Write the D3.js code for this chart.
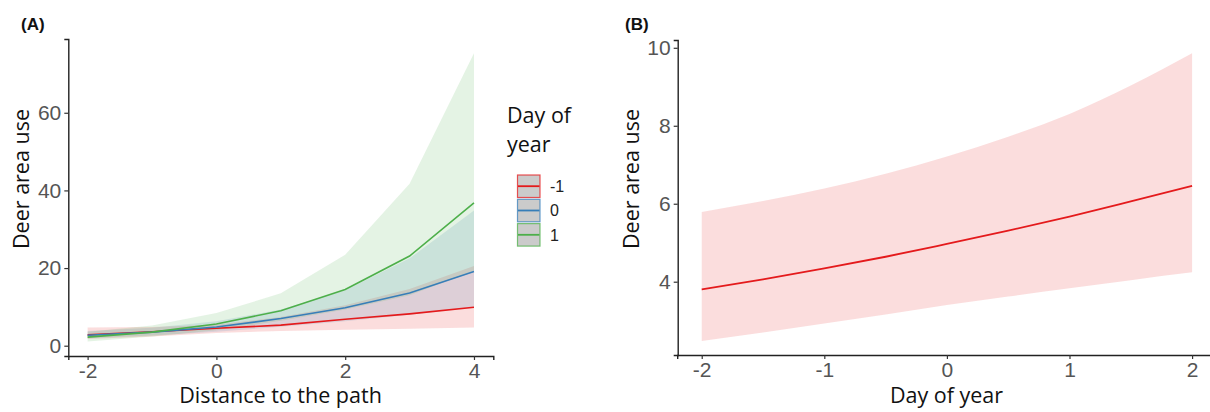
<!DOCTYPE html>
<html><head><meta charset="utf-8">
<script src="https://cdn.jsdelivr.net/npm/d3@7"></script>
<style>
html,body{margin:0;padding:0;background:#fff;}
svg{display:block;}
</style></head>
<body>
<svg id="chart" width="1210" height="412"></svg>
<script>
// ---------- Panel A data ----------
const distA = [-2, -1, 0, 1, 2, 3, 4];
const groupsA = ["-1", "0", "1"];
const fitRed   = [2.8, 3.6, 4.5, 5.3, 6.8, 8.2, 9.9];
const lowRed   = [1.7, 2.4, 3.3, 3.8, 4.1, 4.4, 4.7];
const upRed    = [4.7, 4.8, 5.4, 7.4, 10.4, 14.6, 20.5];
const fitBlue  = [2.7, 3.5, 4.8, 7.0, 9.8, 13.6, 19.1];
const lowBlue  = [1.9, 2.6, 3.6, 4.9, 6.3, 8.0, 10.0];
const upBlue   = [3.8, 4.6, 6.3, 9.3, 14.3, 22.5, 34.8];
const fitGreen = [2.2, 3.5, 5.6, 9.0, 14.5, 23.1, 36.8];
const lowGreen = [1.1, 2.4, 4.0, 6.4, 9.3, 13.0, 19.3];
const upGreen  = [3.6, 5.2, 8.4, 13.5, 23.4, 41.7, 75.3];
const ticksXA = [-2, 0, 2, 4];
const ticksYA = [0, 20, 40, 60];

// ---------- Panel B data ----------
const dayB  = [-2, -1.5, -1, -0.5, 0, 0.5, 1, 1.5, 2];
const fitB  = [3.80, 4.06, 4.34, 4.64, 4.97, 5.31, 5.67, 6.06, 6.46];
const lowB  = [2.48, 2.70, 2.93, 3.16, 3.40, 3.62, 3.83, 4.04, 4.24];
const upB   = [5.79, 6.07, 6.39, 6.77, 7.21, 7.72, 8.30, 9.03, 9.86];
const ticksXB = [-2, -1, 0, 1, 2];
const ticksYB = [4, 6, 8, 10];

const colors = ["#E41A1C", "#377EB8", "#4DAF4A"];
const seriesA = [
  {name: groupsA[0], fit: fitRed, lo: lowRed, hi: upRed, color: colors[0]},
  {name: groupsA[1], fit: fitBlue, lo: lowBlue, hi: upBlue, color: colors[1]},
  {name: groupsA[2], fit: fitGreen, lo: lowGreen, hi: upGreen, color: colors[2]}
];

const svg = d3.select("#chart");
const titleFont = "'Open Sans', 'Noto Sans', sans-serif";
const tickFont = "'Liberation Sans', Arial, sans-serif";
const fmt = d => String(d);

function styleAxis(g) {
  g.select(".domain").attr("stroke", "#222").attr("stroke-width", 1.4);
  g.selectAll(".tick line").attr("stroke", "#333").attr("stroke-width", 1.2);
  g.selectAll(".tick text").attr("fill", "#555").style("font-family", tickFont).style("font-size", "21px");
}

// ---------- Panel A ----------
const xA = d3.scaleLinear().domain([-2.3, 4.3]).range([68.3, 493.3]);
const yA = d3.scaleLinear().domain([-2.65, 79]).range([356, 39]);

const gA = svg.append("g");
seriesA.forEach(s => {
  const area = d3.area()
    .x((d, i) => xA(distA[i]))
    .y0((d, i) => yA(s.lo[i]))
    .y1((d, i) => yA(s.hi[i]));
  gA.append("path").attr("d", area(distA)).attr("fill", s.color).attr("fill-opacity", 0.15);
});
seriesA.forEach(s => {
  const line = d3.line().x((d, i) => xA(distA[i])).y((d, i) => yA(s.fit[i]));
  gA.append("path").attr("d", line(distA)).attr("fill", "none").attr("stroke", s.color).attr("stroke-width", 1.6);
});

const axXA = svg.append("g").attr("transform", "translate(0,356)")
  .call(d3.axisBottom(xA).tickValues(ticksXA).tickSizeOuter(0).tickSize(4).tickPadding(3).tickFormat(fmt));
styleAxis(axXA);
const axYA = svg.append("g").attr("transform", "translate(68.3,0)")
  .call(d3.axisLeft(yA).tickValues(ticksYA).tickSizeOuter(0).tickSize(4).tickPadding(3).tickFormat(fmt));
styleAxis(axYA);

svg.append("text").attr("x", 280.5).attr("y", 403).attr("text-anchor", "middle")
  .style("font-family", titleFont).style("font-size", "21.5px").attr("fill", "#111").text("Distance to the path");
svg.append("text").attr("transform", "translate(29,179) rotate(-90)").attr("text-anchor", "middle")
  .style("font-family", titleFont).style("font-size", "21.5px").attr("fill", "#111").text("Deer area use");
svg.append("text").attr("x", 21).attr("y", 30)
  .style("font-family", tickFont).style("font-size", "17px").style("font-weight", "bold").attr("fill", "#111").text("(A)");

// Legend
const lg = svg.append("g");
lg.append("text").attr("x", 507).attr("y", 123).style("font-family", titleFont).style("font-size", "21.5px").attr("fill", "#111").text("Day of");
lg.append("text").attr("x", 507).attr("y", 152).style("font-family", titleFont).style("font-size", "21.5px").attr("fill", "#111").text("year");
seriesA.forEach((s, i) => {
  const y0 = 174.5 + i * 24.3;
  lg.append("rect").attr("x", 517.5).attr("y", y0 + 0.5).attr("width", 22.5).attr("height", 22.5)
    .attr("fill", "#cbcbcb").attr("stroke", s.color).attr("stroke-opacity", 0.75).attr("stroke-width", 1.2);
  lg.append("line").attr("x1", 518).attr("x2", 539.5).attr("y1", y0 + 11.7).attr("y2", y0 + 11.7)
    .attr("stroke", s.color).attr("stroke-width", 1.8);
  lg.append("text").attr("x", 550).attr("y", y0 + 17.5).style("font-family", tickFont).style("font-size", "16px")
    .attr("fill", "#222").text(s.name);
});

// ---------- Panel B ----------
const xB = d3.scaleLinear().domain([-2.2, 2.2]).range([677.2, 1216.6]);
const yB = d3.scaleLinear().domain([2.12, 10.2]).range([355, 40]);
const gB = svg.append("g");
const areaB = d3.area().curve(d3.curveMonotoneX)
  .x((d, i) => xB(dayB[i])).y0((d, i) => yB(lowB[i])).y1((d, i) => yB(upB[i]));
gB.append("path").attr("d", areaB(dayB)).attr("fill", colors[0]).attr("fill-opacity", 0.15);
const lineB = d3.line().curve(d3.curveMonotoneX).x((d, i) => xB(dayB[i])).y((d, i) => yB(fitB[i]));
gB.append("path").attr("d", lineB(dayB)).attr("fill", "none").attr("stroke", colors[0]).attr("stroke-width", 1.8);

const axXB = svg.append("g").attr("transform", "translate(0,355)")
  .call(d3.axisBottom(xB).tickValues(ticksXB).tickSizeOuter(0).tickSize(4).tickPadding(3).tickFormat(fmt));
styleAxis(axXB);
const axYB = svg.append("g").attr("transform", "translate(677.7,0)")
  .call(d3.axisLeft(yB).tickValues(ticksYB).tickSizeOuter(0).tickSize(4).tickPadding(3).tickFormat(fmt));
styleAxis(axYB);

svg.append("text").attr("x", 946.5).attr("y", 403).attr("text-anchor", "middle")
  .style("font-family", titleFont).style("font-size", "21.5px").attr("fill", "#111").text("Day of year");
svg.append("text").attr("transform", "translate(639,179) rotate(-90)").attr("text-anchor", "middle")
  .style("font-family", titleFont).style("font-size", "21.5px").attr("fill", "#111").text("Deer area use");
svg.append("text").attr("x", 625).attr("y", 30)
  .style("font-family", tickFont).style("font-size", "17px").style("font-weight", "bold").attr("fill", "#111").text("(B)");
</script>
</body></html>
